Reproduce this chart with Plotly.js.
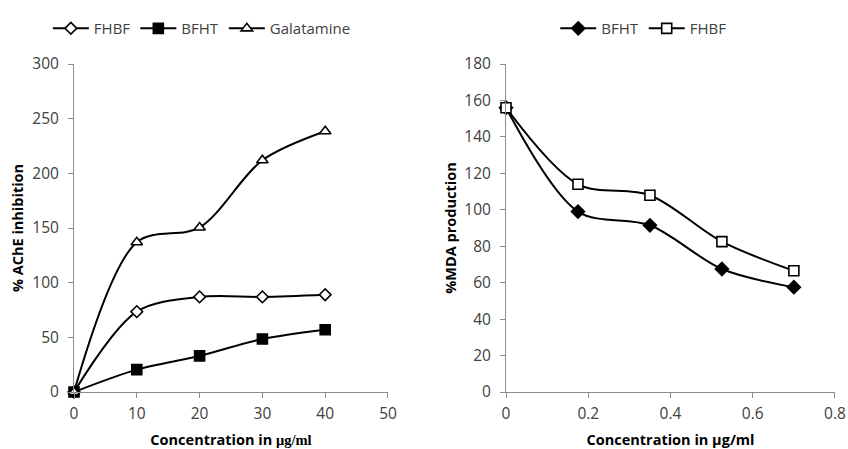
<!DOCTYPE html>
<html>
<head>
<meta charset="utf-8">
<script src="https://cdn.plot.ly/plotly-3.0.1.min.js"></script>
<style>html,body{margin:0;padding:0;background:#fff;}#chart{width:848px;height:449px;}</style>
</head>
<body>
<div id="chart"></div>
<script>
// Left chart: AChE inhibition
const concAChE = [0, 10, 20, 30, 40];
const acheFHBF = [0, 73.5, 87, 87, 89];
const acheBFHT = [0, 20.5, 33, 48.5, 57];
const acheGalatamine = [0, 137, 150.5, 212, 238.5];

// Right chart: MDA production
const concMDA = [0, 0.175, 0.35, 0.525, 0.7];
const mdaBFHT = [156, 99, 91.5, 67.5, 57.5];
const mdaFHBF = [156, 114, 108, 82.5, 66.5];

const xTitleLeft = "Concentration in <span style='font-family:\"Liberation Serif\",serif'>μg/ml</span>";
const xTitleRight = "Concentration in μg/ml";

const lineStyle = {color: '#000', width: 2, shape: 'spline', smoothing: 0.9};
const tickFont = {family: 'Open Sans, sans-serif', size: 15.5, color: '#404040'};
const titleFont = {family: 'Open Sans, sans-serif', size: 14.5, color: '#000', weight: 'bold'};

function mk(x, y, name, symbol, size, fill, xa, ya, legend) {
  return {
    x: x, y: y, name: name, type: 'scatter', mode: 'lines+markers',
    xaxis: xa, yaxis: ya, legend: legend, cliponaxis: false,
    line: lineStyle,
    marker: {symbol: symbol, size: size, color: fill, line: {color: '#000', width: 1.6}}
  };
}

const data = [
  mk(concAChE, acheFHBF, 'FHBF', 'diamond', 9, '#fff', 'x', 'y', 'legend'),
  mk(concAChE, acheBFHT, 'BFHT', 'square', 10, '#000', 'x', 'y', 'legend'),
  mk(concAChE, acheGalatamine, 'Galatamine', 'triangle-up', 10, '#fff', 'x', 'y', 'legend'),
  mk(concMDA, mdaBFHT, 'BFHT', 'diamond', 10, '#000', 'x2', 'y2', 'legend2'),
  mk(concMDA, mdaFHBF, 'FHBF', 'square', 10, '#fff', 'x2', 'y2', 'legend2')
];

const axisCommon = {
  showgrid: false, zeroline: false, showline: true, linecolor: '#8c8c8c', linewidth: 1,
  ticks: 'outside', ticklen: 5, tickcolor: '#8c8c8c', tickfont: tickFont, fixedrange: true
};

const legendCommon = {
  orientation: 'h', font: {family: 'Open Sans, sans-serif', size: 15, color: '#404040'},
  yanchor: 'middle', xanchor: 'center', bgcolor: 'rgba(0,0,0,0)', itemwidth: 36, tracegroupgap: 0
};

const layout = {
  width: 848, height: 449,
  margin: {l: 74, r: 13, t: 60, b: 57},
  paper_bgcolor: '#fff', plot_bgcolor: '#fff',
  showlegend: true,
  xaxis: Object.assign({}, axisCommon, {domain: [0, 0.4126], range: [0, 50], dtick: 10, tick0: 0,
    ticklabelstandoff: 2,
    title: {text: xTitleLeft, font: titleFont, standoff: 15}}),
  yaxis: Object.assign({}, axisCommon, {domain: [0, 1], range: [0, 300], dtick: 50, tick0: 0,
    ticklabelstandoff: 6,
    title: {text: '% AChE inhibition', font: titleFont, standoff: 5}}),
  xaxis2: Object.assign({}, axisCommon, {domain: [0.5677, 1], range: [0, 0.8], dtick: 0.2, tick0: 0,
    anchor: 'y2', ticklabelstandoff: 2,
    title: {text: xTitleRight, font: titleFont, standoff: 15}}),
  yaxis2: Object.assign({}, axisCommon, {domain: [0, 1], range: [0, 180], dtick: 20, tick0: 0,
    anchor: 'x2', ticklabelstandoff: 6,
    title: {text: '%MDA production', font: titleFont, standoff: 4}}),
  legend: Object.assign({}, legendCommon, {x: 0.168, y: 1.108}),
  legend2: Object.assign({}, legendCommon, {x: 0.748, y: 1.108})
};

Plotly.newPlot('chart', data, layout, {displayModeBar: false, staticPlot: true});
</script>
</body>
</html>
